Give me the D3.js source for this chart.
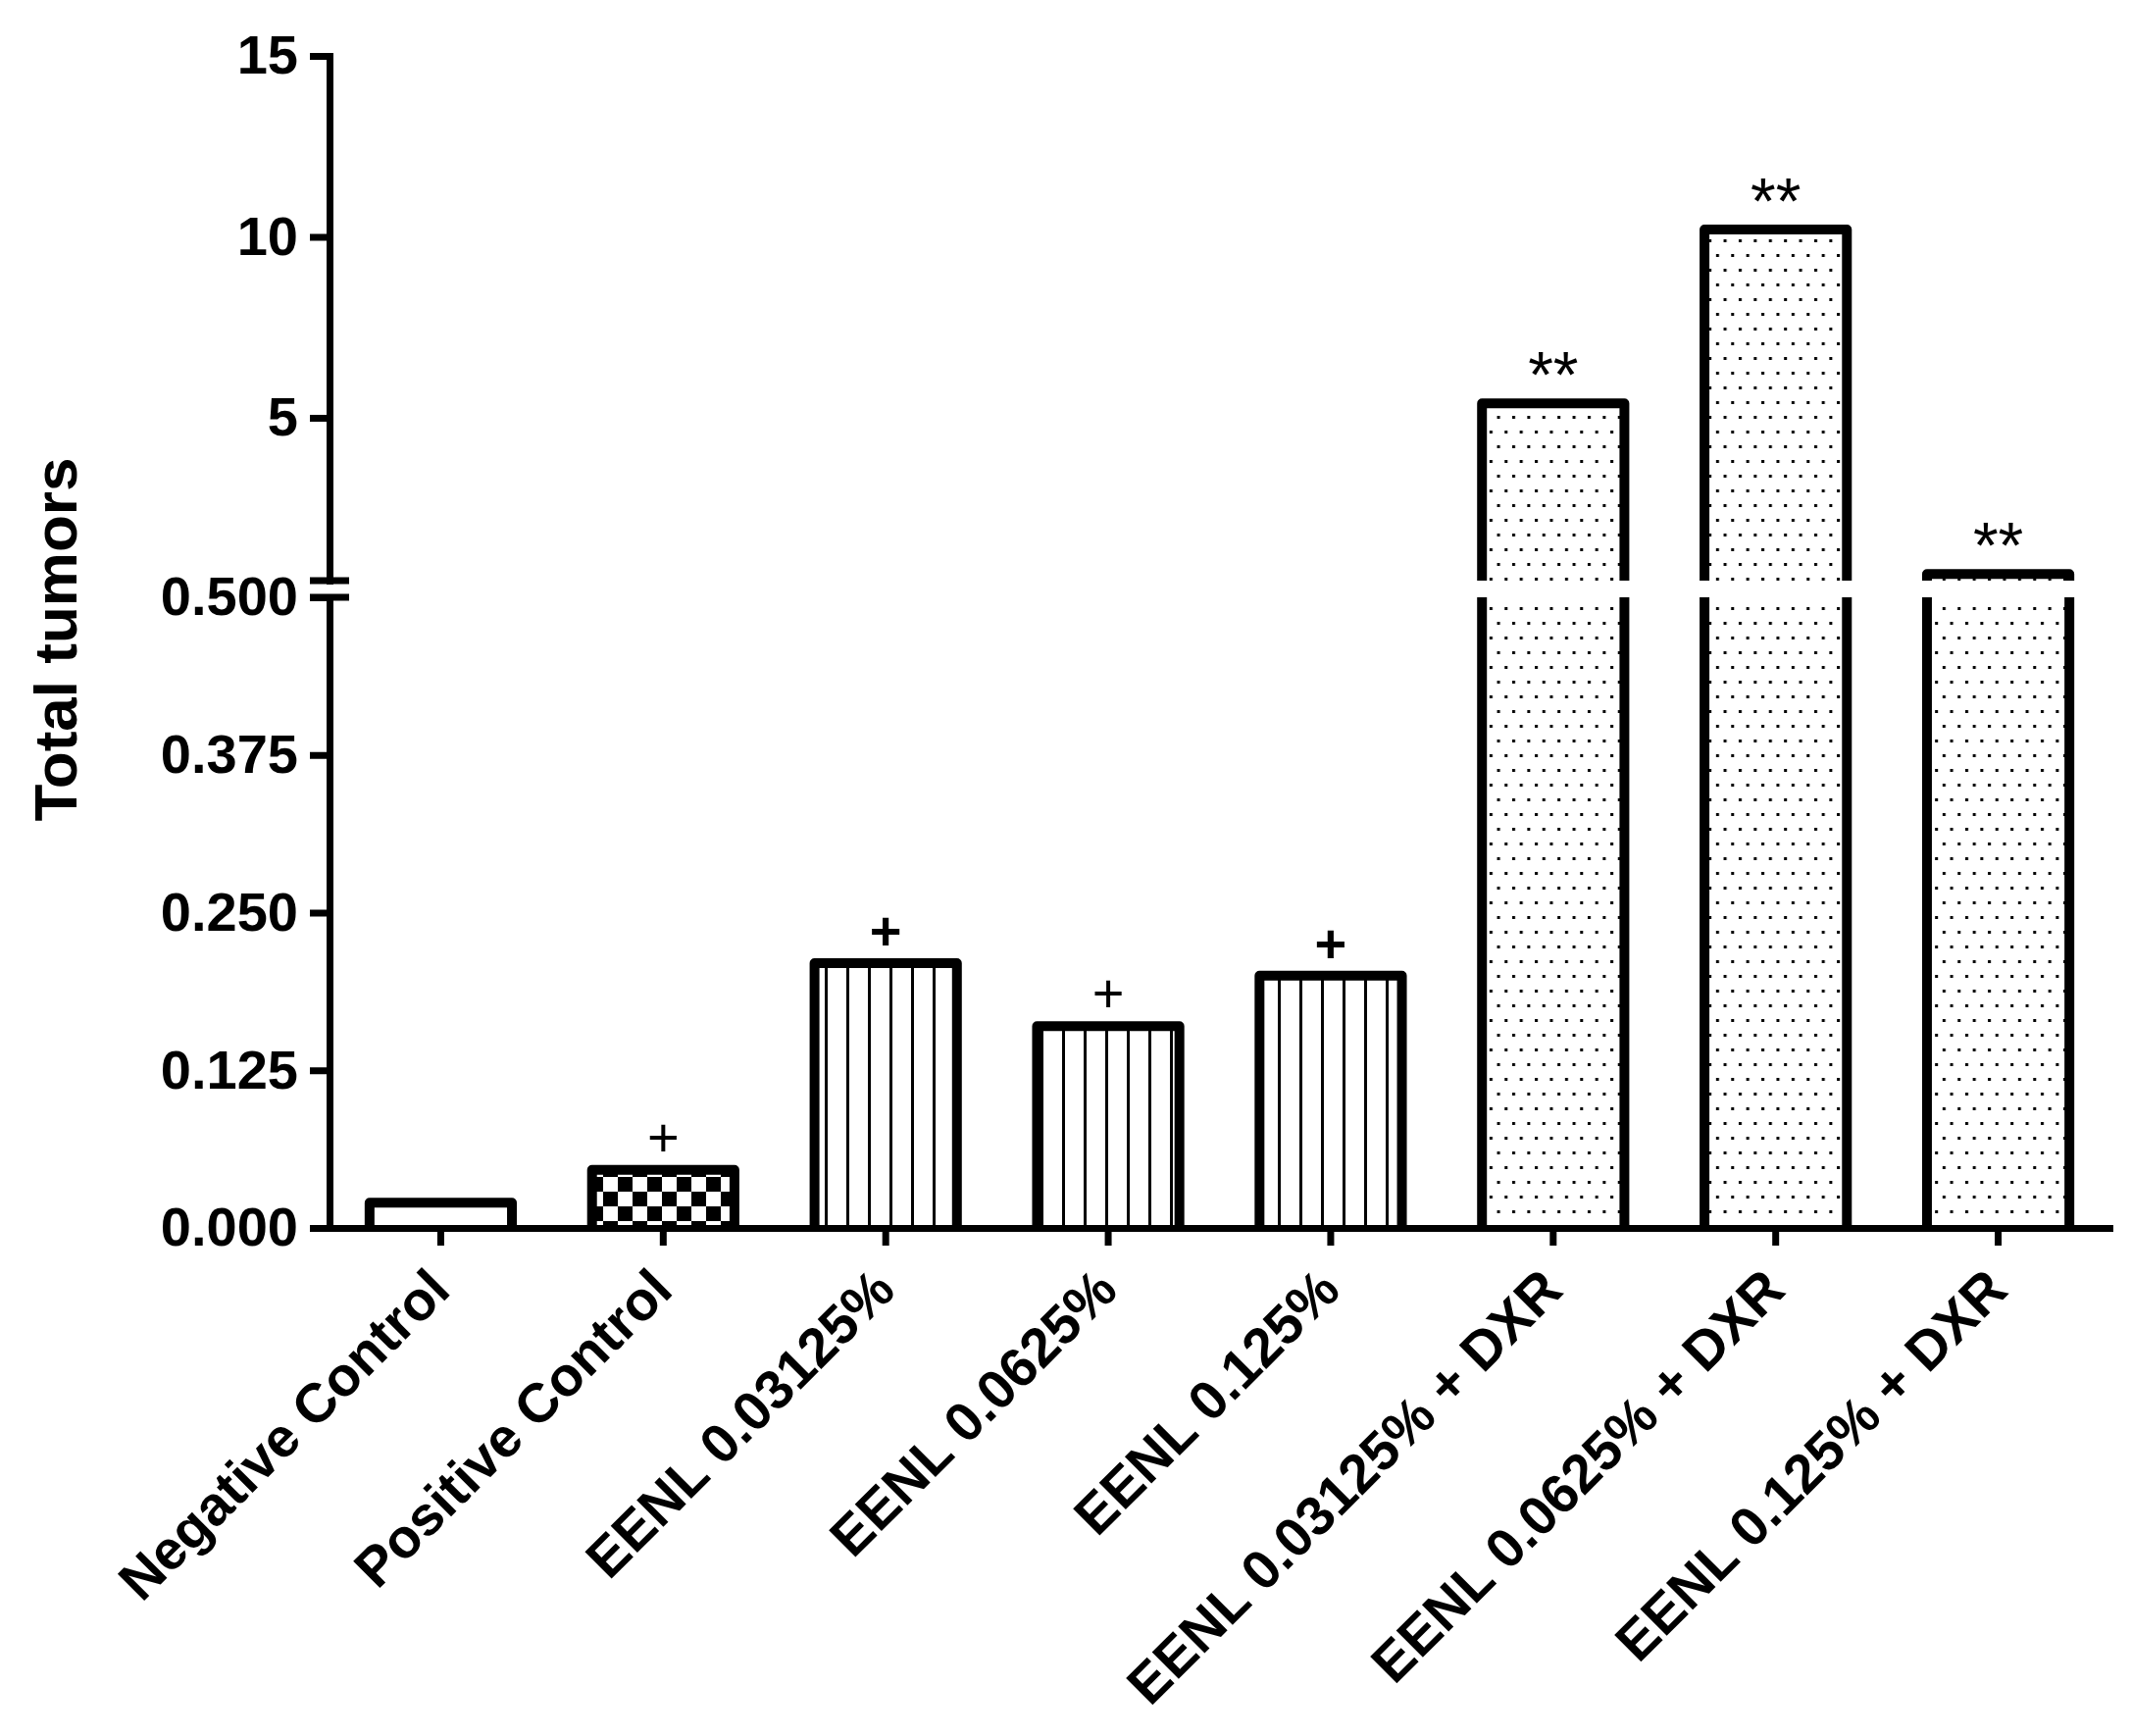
<!DOCTYPE html>
<html>
<head>
<meta charset="utf-8">
<script src="https://cdn.jsdelivr.net/npm/d3@7"></script>
<style>
  body { margin: 0; background: #fff; }
  text { font-family: "Liberation Sans", Arial, sans-serif; fill: #000; }
</style>
</head>
<body>
<script>
// data
var categories = ["Negative Control", "Positive Control", "EENL 0.03125%", "EENL 0.0625%",
                  "EENL 0.125%", "EENL 0.03125% + DXR", "EENL 0.0625% + DXR", "EENL 0.125% + DXR"];
var totalTumors = [0.02, 0.046, 0.21, 0.16, 0.20, 5.4, 10.2, 0.68];
var groups = ["negative", "positive", "EENL", "EENL", "EENL", "EENL+DXR", "EENL+DXR", "EENL+DXR"];
var signif = ["", "+", "+", "+", "+", "**", "**", "**"];
var lowTicks = [0, 0.125, 0.25, 0.375, 0.5];
var highTicks = [5, 10, 15];

// styling
var width = 2173, height = 1770;
var patternOf = {"negative": "#fff", "positive": "url(#checker)", "EENL": "url(#vlines)", "EENL+DXR": "url(#dots)"};
var boldMark = [false, false, true, false, true, false, false, false];
var axisW = 7, barW = 10;

var svg = d3.select("body").append("svg")
            .attr("width", width)
            .attr("height", height);

// fill patterns
var defs = svg.append("defs");
var checker = defs.append("pattern").attr("id", "checker")
                  .attr("patternUnits", "userSpaceOnUse")
                  .attr("width", 30).attr("height", 30);
checker.append("rect").attr("width", 30).attr("height", 30).attr("fill", "#fff");
checker.append("rect").attr("width", 15).attr("height", 15).attr("fill", "#000");
checker.append("rect").attr("x", 15).attr("y", 15).attr("width", 15).attr("height", 15).attr("fill", "#000");

var vlines = defs.append("pattern").attr("id", "vlines")
                 .attr("patternUnits", "userSpaceOnUse")
                 .attr("x", 5)
                 .attr("width", 22).attr("height", 10);
vlines.append("rect").attr("width", 22).attr("height", 10).attr("fill", "#fff");
vlines.append("rect").attr("width", 3).attr("height", 10).attr("fill", "#000");

// staggered dot grid: a dot every ~15px along a row, rows 15px apart, every other row shifted half a step
var dots = defs.append("pattern").attr("id", "dots")
               .attr("patternUnits", "userSpaceOnUse")
               .attr("width", 15.4).attr("height", 30);
dots.append("rect").attr("width", 15.4).attr("height", 30).attr("fill", "#fff");
dots.append("rect").attr("x", 2).attr("y", 4).attr("width", 3).attr("height", 3).attr("fill", "#000");
dots.append("rect").attr("x", 9.7).attr("y", 19).attr("width", 3).attr("height", 3).attr("fill", "#000");

// scales: broken y axis, two segments
var x = d3.scaleBand().domain(categories).range([336, 2151]).paddingInner(0.36).paddingOuter(0.18);
var yLow = d3.scaleLinear().domain([0, 0.5]).range([1252, 609]);
var yHigh = d3.scaleLinear().domain([0.5, 15]).range([592, 57]);
function yOf(v) { return v <= 0.5 ? yLow(v) : yHigh(v); }

// bars
var bars = svg.append("g").attr("class", "bars");
categories.forEach(function(c, i) {
  var v = totalTumors[i];
  var x0 = x(c), x1 = x(c) + x.bandwidth();
  var fill = patternOf[groups[i]];
  var g = bars.append("g");
  if (v <= 0.5) {
    g.append("rect").attr("x", x0).attr("y", yLow(v))
     .attr("width", x.bandwidth()).attr("height", yLow(0) - yLow(v))
     .attr("fill", fill);
    g.append("path")
     .attr("d", "M" + x0 + "," + yLow(0) + "V" + yLow(v) + "H" + x1 + "V" + yLow(0))
     .attr("fill", "none").attr("stroke", "#000").attr("stroke-width", barW)
     .attr("stroke-linejoin", "round");
  } else {
    // lower segment: sides only
    g.append("rect").attr("x", x0).attr("y", yLow(0.5))
     .attr("width", x.bandwidth()).attr("height", yLow(0) - yLow(0.5))
     .attr("fill", fill);
    g.append("path")
     .attr("d", "M" + x0 + "," + yLow(0) + "V" + yLow(0.5) + "M" + x1 + "," + yLow(0.5) + "V" + yLow(0))
     .attr("fill", "none").attr("stroke", "#000").attr("stroke-width", barW);
    // upper segment
    g.append("rect").attr("x", x0).attr("y", yHigh(v))
     .attr("width", x.bandwidth()).attr("height", yHigh(0.5) - yHigh(v))
     .attr("fill", fill);
    g.append("path")
     .attr("d", "M" + x0 + "," + yHigh(0.5) + "V" + yHigh(v) + "H" + x1 + "V" + yHigh(0.5))
     .attr("fill", "none").attr("stroke", "#000").attr("stroke-width", barW)
     .attr("stroke-linejoin", "round");
  }
});

// significance marks
categories.forEach(function(c, i) {
  if (!signif[i]) return;
  var top = yOf(totalTumors[i]);
  var isStar = signif[i] == "**";
  svg.append("text")
     .attr("x", x(c) + x.bandwidth() / 2)
     .attr("y", isStar ? top - 6 : top - 14)
     .attr("text-anchor", "middle")
     .attr("font-size", isStar ? 66 : 56)
     .attr("font-weight", boldMark[i] ? "bold" : "normal")
     .text(signif[i]);
});

// y axes
function styleAxis(g) {
  g.selectAll("path").attr("stroke-width", axisW).attr("stroke-linecap", "square");
  g.selectAll("line").attr("stroke-width", axisW);
  g.selectAll("text").attr("font-size", 56).attr("font-weight", "bold")
   .attr("font-family", "'Liberation Sans', Arial, sans-serif");
}

svg.append("g")
   .attr("transform", "translate(336,0)")
   .call(d3.axisLeft(yLow).tickValues(lowTicks).tickFormat(d3.format(".3f"))
           .tickSize(20).tickPadding(12).tickSizeOuter(0))
   .call(styleAxis);

svg.append("g")
   .attr("transform", "translate(336,0)")
   .call(d3.axisLeft(yHigh).tickValues(highTicks).tickFormat(d3.format("d"))
           .tickSize(20).tickPadding(12).tickSizeOuter(0))
   .call(styleAxis);

// break marks
[yHigh(0.5), yLow(0.5)].forEach(function(yy) {
  svg.append("line")
     .attr("x1", 316).attr("x2", 356)
     .attr("y1", yy).attr("y2", yy)
     .attr("stroke", "#000").attr("stroke-width", axisW);
});

// x axis
var xAxis = svg.append("g")
   .attr("transform", "translate(0,1252)")
   .call(d3.axisBottom(x).tickSize(18).tickSizeOuter(0))
   .call(styleAxis);

xAxis.selectAll(".tick text")
     .attr("x", 0).attr("y", 0).attr("dy", 0)
     .attr("text-anchor", "end")
     .attr("transform", "translate(12,66) rotate(-45)");

// y title
svg.append("text")
   .attr("transform", "translate(78,652) rotate(-90)")
   .attr("text-anchor", "middle")
   .attr("font-size", 62)
   .attr("font-weight", "bold")
   .text("Total tumors");
</script>
</body>
</html>
